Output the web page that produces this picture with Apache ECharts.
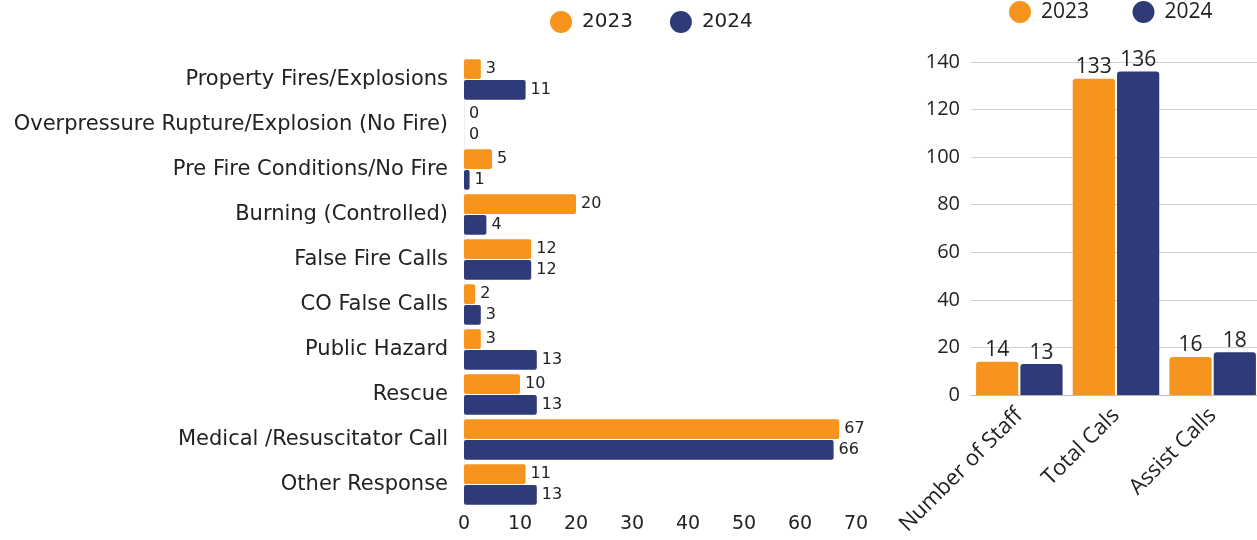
<!DOCTYPE html>
<html>
<head>
<meta charset="utf-8">
<script src="https://cdn.jsdelivr.net/npm/echarts@6/dist/echarts.min.js"></script>
<style>
  html, body { margin: 0; padding: 0; background: #fff; overflow: hidden; }
  #chart { width: 1262px; height: 540px; }
</style>
</head>
<body>
<div id="chart"></div>
<script>
// incident types (left chart)
var incidentTypes = ['Property Fires/Explosions', 'Overpressure Rupture/Explosion (No Fire)',
  'Pre Fire Conditions/No Fire', 'Burning (Controlled)', 'False Fire Calls', 'CO False Calls',
  'Public Hazard', 'Rescue', 'Medical /Resuscitator Call', 'Other Response'];
var incidents2023 = [3, 0, 5, 20, 12, 2, 3, 10, 67, 11];
var incidents2024 = [11, 0, 1, 4, 12, 3, 13, 13, 66, 13];

// summary (right chart)
var summaryCats = ['Number of Staff', 'Total Cals', 'Assist Calls'];
var summary2023 = [14, 133, 16];
var summary2024 = [13, 136, 18];

var ORANGE = '#F7941D';
var NAVY = '#2E3B78';
var leftFont = '"DejaVu Sans", sans-serif';
var rightFont = '"Open Sans", sans-serif';

var myChart = echarts.init(document.getElementById('chart'));

var option = {
    color: [ORANGE, NAVY],
    animation: false,
    legend: [
        {
            data: ['2023', '2024'],
            left: 545, top: 6,
            icon: 'circle', itemWidth: 32, itemHeight: 22, itemGap: 37,
            textStyle: { fontFamily: leftFont, fontSize: 20, color: '#222' }
        },
        {
            data: ['2023 ', '2024 '],
            left: 1004, top: -4,
            icon: 'circle', itemWidth: 32, itemHeight: 22, itemGap: 38,
            textStyle: { fontFamily: rightFont, fontSize: 21, color: '#222' }
        }
    ],
    grid: [
        { left: 464, top: 57, width: 392, height: 450 },
        { left: 971, top: 62, width: 290, height: 333 }
    ],
    xAxis: [
        {
            gridIndex: 0, type: 'value', min: 0, max: 70, interval: 10,
            splitLine: { show: false },
            axisLine: { show: false }, axisTick: { show: false },
            axisLabel: { fontFamily: leftFont, fontSize: 19, color: '#222', margin: 8 }
        },
        {
            gridIndex: 1, type: 'category', data: summaryCats,
            axisLine: { lineStyle: { color: '#bbb' } }, axisTick: { show: false },
            axisLabel: { fontFamily: rightFont, fontSize: 22, color: '#222', rotate: 45, margin: 17, interval: 0 }
        }
    ],
    yAxis: [
        {
            gridIndex: 0, type: 'category', data: incidentTypes, inverse: true,
            axisLine: { lineStyle: { color: '#eeeeee' } }, axisTick: { show: false },
            axisLabel: { fontFamily: leftFont, fontSize: 21, color: '#222', margin: 16 }
        },
        {
            gridIndex: 1, type: 'value', min: 0, max: 140, interval: 20,
            axisLine: { show: false }, axisTick: { show: false },
            splitLine: { lineStyle: { color: '#d0d0d0' } },
            axisLabel: { fontFamily: rightFont, fontSize: 20, color: '#222', margin: 11 }
        }
    ],
    series: [
        {
            name: '2023', type: 'bar', xAxisIndex: 0, yAxisIndex: 0,
            data: incidents2023, barCategoryGap: '10%', barGap: '6%',
            itemStyle: { color: ORANGE, borderRadius: 2 },
            label: { show: true, position: 'right', distance: 5, fontFamily: leftFont, fontSize: 16, color: '#222' }
        },
        {
            name: '2024', type: 'bar', xAxisIndex: 0, yAxisIndex: 0,
            data: incidents2024, barCategoryGap: '10%', barGap: '6%',
            itemStyle: { color: NAVY, borderRadius: 2 },
            label: { show: true, position: 'right', distance: 5, fontFamily: leftFont, fontSize: 16, color: '#222' }
        },
        {
            name: '2023 ', type: 'bar', xAxisIndex: 1, yAxisIndex: 1,
            data: summary2023, barCategoryGap: '10.5%', barGap: '5%',
            itemStyle: { color: ORANGE, borderRadius: [3, 3, 0, 0] },
            label: { show: true, position: 'top', distance: 1, fontFamily: rightFont, fontSize: 21, color: '#222' }
        },
        {
            name: '2024 ', type: 'bar', xAxisIndex: 1, yAxisIndex: 1,
            data: summary2024, barCategoryGap: '10.5%', barGap: '5%',
            itemStyle: { color: NAVY, borderRadius: [3, 3, 0, 0] },
            label: { show: true, position: 'top', distance: 1, fontFamily: rightFont, fontSize: 21, color: '#222' }
        }
    ]
};

myChart.setOption(option);
</script>
</body>
</html>
